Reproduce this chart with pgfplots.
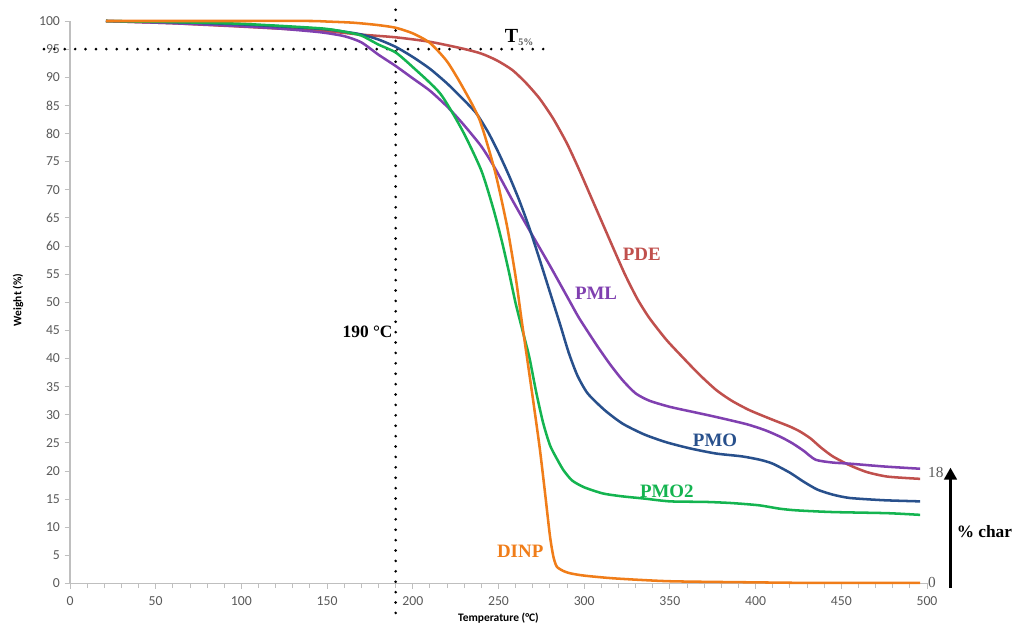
\documentclass[border=0pt]{standalone}
\usepackage{fontspec}
\setmainfont{Carlito}
\newfontfamily\serif{Liberation Serif}
\usepackage{pgfplots}
\pgfplotsset{compat=1.18}
\usetikzlibrary{arrows.meta}

\definecolor{cPDE}{RGB}{192,80,77}
\definecolor{cPML}{RGB}{128,64,176}
\definecolor{cPMO}{RGB}{40,80,140}
\definecolor{cPMO2}{RGB}{20,180,80}
\definecolor{cDINP}{RGB}{240,125,25}
\definecolor{ticktext}{RGB}{89,89,89}
\definecolor{axisgray}{RGB}{191,191,191}

\begin{document}
\begin{tikzpicture}[x=0.75pt,y=0.75pt]
\useasboundingbox (0,0) rectangle (1014,627);
\begin{axis}[
  at={(52.5pt,32.625pt)}, anchor=south west,
  scale only axis, width=642.75pt, height=421.875pt,
  xmin=0, xmax=500, ymin=0, ymax=100,
  clip=false,
  axis x line=bottom, axis y line=left,
  axis line style={-, draw=axisgray, line width=0.9pt},
  xtick={0,50,...,500}, minor x tick num=4,
  ytick={0,5,...,100},
  tick align=outside,
  major tick length=4pt, minor tick length=3.5pt,
  every tick/.style={draw=axisgray, line width=0.7pt},
  ticklabel style={font=\fontsize{10.3}{12}\selectfont, text=ticktext},
  x tick label style={yshift=-2.5pt},
  /pgf/number format/assume math mode=true,
  xlabel={\textbf{Temperature (°C)}},
  xlabel style={at={(axis description cs:0.5,-0.061)}, anchor=center, font=\fontsize{8.6}{10}\selectfont},
  ylabel={\textbf{Weight (\%)}},
  ylabel style={at={(axis description cs:-0.0606,0.504)}, anchor=center, font=\fontsize{8.6}{10}\selectfont},
  every axis plot/.append style={line width=1.9pt, smooth, tension=0.4, line join=round},
]
% reference lines
\addplot[black, line width=2.2pt, line cap=round, dash pattern=on 0pt off 7.8pt, sharp plot] coordinates {(-15.2,95) (278,95)};
\addplot[black, line width=2.2pt, line cap=round, dash pattern=on 0pt off 7.8pt, sharp plot] coordinates {(190,102) (190,-6)};

% PDE
\addplot[cPDE] coordinates {(21,100) (40,99.8) (60,99.6) (80,99.3) (100,99.0) (125,98.6) (146,98.3) (169,97.6) (190,97.1) (210,96.3) (229,95.1) (240,94.2) (249,93) (258,91.3) (266,89) (274,86.2) (282,82.6) (290,78.2) (297,73.6) (304,68.7) (311,63.8) (318,58.9) (324,54.8) (331,50.6) (338,47.2) (348,43.3) (357.5,40.2) (367,37.2) (377,34.4) (386,32.5) (396.5,30.8) (410,29.1) (420,27.9) (426,27.0) (432,25.8) (438,24.2) (445,22.6) (455,21.0) (465,19.8) (477,19.0) (496,18.6)};
% PML
\addplot[cPML] coordinates {(21,100) (40,99.8) (60,99.6) (91.5,99.2) (120,98.7) (146,98.0) (160,97.3) (170,96.2) (180,94.0) (190,92.0) (200,89.8) (210,87.6) (220,84.8) (229,81.8) (240,77.7) (248,73.8) (258,68.2) (269,62.3) (280,56.5) (291.5,50.2) (297,47.2) (307,42.5) (315,39.0) (322.5,36.1) (330,33.8) (338,32.5) (350,31.4) (365,30.4) (377,29.6) (395,28.3) (406,27.2) (415,26.0) (421.6,24.9) (428,23.6) (435,22.0) (445,21.5) (455,21.3) (475,20.8) (496,20.4)};
% PMO
\addplot[cPMO] coordinates {(21,100) (40,99.9) (60,99.8) (100,99.4) (146,98.6) (160,98.1) (170,97.6) (180,96.7) (190,95.4) (200,93.6) (210,91.5) (220,88.9) (229,86.2) (237,83.6) (244,80.2) (250,76.6) (256,72.6) (262,68.2) (268,63.2) (274,57.6) (280,51.8) (286,46) (291,41) (296,37) (302,33.8) (312,30.8) (322.5,28.4) (335,26.5) (348,25.1) (362,24) (377,23.1) (392,22.6) (402.5,22) (410,21.3) (420,19.7) (428,18.1) (436,16.7) (445,15.8) (455,15.2) (475,14.8) (496,14.6)};
% PMO2
\addplot[cPMO2] coordinates {(21,100) (40,99.9) (60,99.8) (100,99.5) (146,98.7) (160,98.1) (170,97.4) (180,95.8) (190,94.4) (200,91.8) (216,87.1) (229,80.5) (240,73.4) (247,66.6) (252,60.8) (256,55.5) (260,49.8) (264,45) (268,40.2) (272,34) (276,28.6) (280,24.6) (284,22.2) (288,20.1) (293,18.3) (300,17.1) (311,16) (322,15.5) (335,15.1) (350,14.6) (371,14.5) (386,14.3) (402,13.9) (414,13.3) (424,13.0) (445,12.7) (477,12.5) (496,12.2)};
% DINP
\addplot[cDINP] coordinates {(21,100) (60,100) (100,100) (140,100) (150,99.9) (165,99.7) (179,99.3) (190,98.8) (200,97.8) (210,96.1) (220,92.8) (229,88.3) (239,82.4) (248,73.2) (255,63.5) (260,54.5) (263.4,47) (266,41.5) (270,33) (274,24.2) (277,16.5) (280,8.5) (282,4.8) (284,3.0) (288,2.2) (292,1.8) (300,1.4) (318,0.9) (350,0.4) (400,0.2) (435,0.1) (496,0.1)};

% annotations
\node[anchor=base west, inner sep=0, font=\serif\bfseries\fontsize{15}{17}\selectfont] at (axis cs:253.6,96.1) {T\raisebox{-0.3ex}{\fontsize{7.5}{9}\selectfont\color{ticktext}5\%}};
\node[anchor=base east, inner sep=0, font=\serif\bfseries\fontsize{13}{15}\selectfont] at (axis cs:188.3,43.8) {190 °C};
\node[anchor=base west, inner sep=0, text=cPDE, font=\serif\bfseries\fontsize{14.2}{16}\selectfont] at (axis cs:322.4,57.5) {PDE};
\node[anchor=base west, inner sep=0, text=cPML, font=\serif\bfseries\fontsize{14.2}{16}\selectfont] at (axis cs:294.5,50.4) {PML};
\node[anchor=base west, inner sep=0, text=cPMO, font=\serif\bfseries\fontsize{14.2}{16}\selectfont] at (axis cs:363.3,24.3) {PMO};
\node[anchor=base west, inner sep=0, text=cPMO2, font=\serif\bfseries\fontsize{14.2}{16}\selectfont] at (axis cs:332.4,15.2) {PMO2};
\node[anchor=base west, inner sep=0, text=cDINP, font=\serif\bfseries\fontsize{14.2}{16}\selectfont] at (axis cs:249,4.7) {DINP};
\node[anchor=base west, inner sep=0, text=ticktext, font=\serif\fontsize{11.5}{13}\selectfont] at (axis cs:500.5,18.9) {18};
\node[anchor=base west, inner sep=0, text=ticktext, font=\serif\fontsize{11.5}{13}\selectfont] at (axis cs:500.5,-0.8) {0};
\draw[-{Triangle[width=9.4pt,length=9pt]}, line width=2.2pt] (axis cs:513.7,-0.8) -- (axis cs:513.7,20.6);
\node[anchor=base west, inner sep=0, font=\serif\bfseries\fontsize{13}{15}\selectfont] at (axis cs:517.2,8.1) {\% char};
\end{axis}
\end{tikzpicture}
\end{document}
